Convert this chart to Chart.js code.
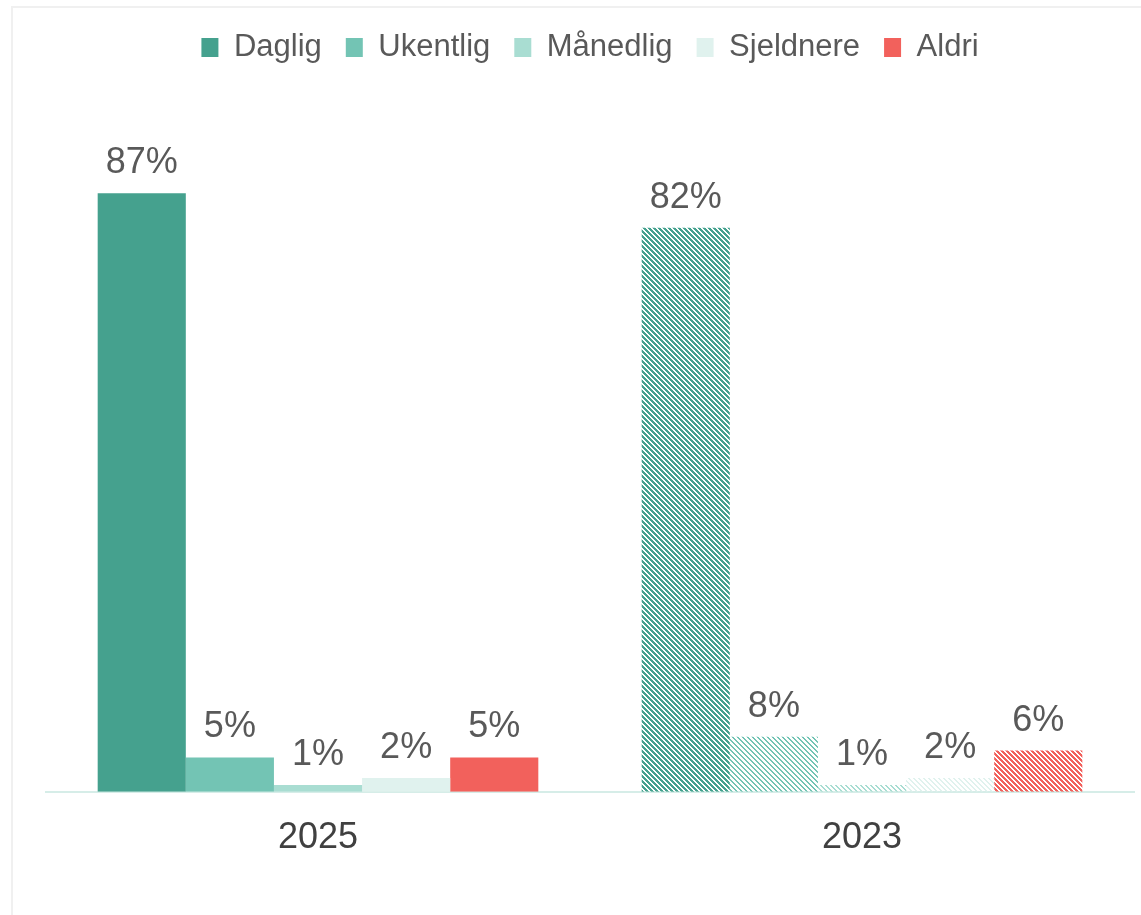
<!DOCTYPE html>
<html>
<head>
<meta charset="utf-8">
<script src="https://cdn.jsdelivr.net/npm/chart.js@4.4.1/dist/chart.umd.min.js"></script>
<style>
  html, body { margin: 0; padding: 0; background: #fff; overflow: hidden; }
  #wrap { position: relative; width: 1141px; height: 915px; }
  #frame { position: absolute; left: 11px; top: 6px; width: 1200px; height: 1000px;
           border-left: 2px solid #f0f0f0; border-top: 2px solid #f0f0f0; pointer-events: none; }
</style>
</head>
<body>
<div id="wrap">
  <canvas id="myChart"></canvas>
  <div id="frame"></div>
</div>
<script>
const years = ['2025', '2023'];
const seriesNames = ['Daglig', 'Ukentlig', 'Månedlig', 'Sjeldnere', 'Aldri'];
const daglig = [87, 82];
const ukentlig = [5, 8];
const maanedlig = [1, 1];
const sjeldnere = [2, 2];
const aldri = [5, 6];
const seriesValues = [daglig, ukentlig, maanedlig, sjeldnere, aldri];
const colors = ['#45a18e', '#73c4b4', '#a9ddd2', '#e0f2ee', '#f2615c'];
const stripeWidth = [3, 2, 2, 2, 3];

// diagonal hatch (top-left to bottom-right) for the older year
function hatch(color, thick) {
    const size = 5;
    const c = document.createElement('canvas');
    c.width = size; c.height = size;
    const g = c.getContext('2d');
    g.fillStyle = color;
    for (let y = 0; y < size; y++) {
        for (let x = 0; x < size; x++) {
            if (((x - y) % size + size) % size < thick) g.fillRect(x, y, 1, 1);
        }
    }
    return g.createPattern(c, 'repeat');
}

const labelPlugin = {
    id: 'valueLabels',
    afterDatasetsDraw(chart) {
        const ctx = chart.ctx;
        ctx.save();
        ctx.font = '36px "Liberation Sans", Arial, sans-serif';
        ctx.fillStyle = '#595959';
        ctx.textAlign = 'center';
        ctx.textBaseline = 'alphabetic';
        chart.data.datasets.forEach((ds, i) => {
            chart.getDatasetMeta(i).data.forEach((bar, j) => {
                ctx.fillText(ds.data[j] + '%', bar.x, bar.y - 20);
            });
        });
        ctx.restore();
    }
};

const ctx = document.getElementById('myChart').getContext('2d');

const data = {
    labels: years,
    datasets: seriesNames.map((name, i) => ({
        label: name,
        data: seriesValues[i],
        backgroundColor: [colors[i], hatch(colors[i], stripeWidth[i])],
        borderWidth: 0,
        categoryPercentage: 0.81,
        barPercentage: 1.0
    }))
};

const config = {
    type: 'bar',
    data: data,
    plugins: [labelPlugin],
    options: {
        responsive: true,
        maintainAspectRatio: false,
        animation: false,
        layout: { padding: { left: 46, right: 7, top: 8, bottom: 38 } },
        scales: {
            x: {
                grid: { display: false },
                border: { display: true, color: '#d6ede8', width: 2 },
                ticks: {
                    padding: 17,
                    color: '#404040',
                    font: { size: 36, family: '"Liberation Sans", Arial, sans-serif' }
                }
            },
            y: {
                display: false,
                min: 0,
                max: 104.5
            }
        },
        plugins: {
            legend: {
                position: 'top',
                labels: {
                    boxWidth: 17,
                    boxHeight: 19,
                    padding: 24,
                    color: '#595959',
                    font: { size: 31, family: '"Liberation Sans", Arial, sans-serif' }
                }
            },
            tooltip: { enabled: false }
        }
    }
};

const myChart = new Chart(ctx, config);
</script>
</body>
</html>
